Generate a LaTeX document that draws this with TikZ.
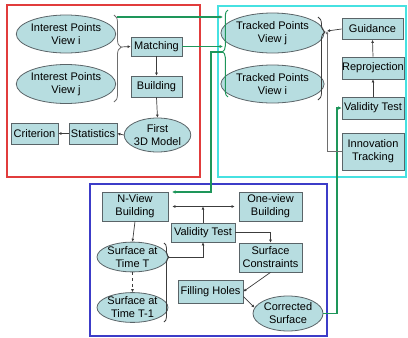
\documentclass[tikz,border=0pt]{standalone}
\usepackage{fontspec}
\setmainfont{Liberation Sans}
\usetikzlibrary{shapes.geometric,arrows.meta,decorations.pathreplacing}
\definecolor{nodefill}{RGB}{183,221,224}
\definecolor{nodeline}{RGB}{90,100,104}
\definecolor{conn}{RGB}{60,60,60}
\definecolor{braceline}{RGB}{110,110,110}
\definecolor{greenline}{RGB}{30,150,90}
\definecolor{redframe}{RGB}{225,60,60}
\definecolor{cyanframe}{RGB}{70,225,225}
\definecolor{blueframe}{RGB}{60,60,200}
\begin{document}
\begin{tikzpicture}[x=1pt,y=-1pt,
  every node/.style={font=\fontsize{11}{13}\selectfont, align=center, inner sep=0pt},
  boxnode/.style={draw=nodeline, fill=nodefill, line width=0.8pt, rectangle},
  ellnode/.style={draw=nodeline, fill=nodefill, line width=0.8pt, ellipse},
  arr/.style={draw=conn, line width=0.7pt, -{Latex[length=3pt,width=3pt]}},
  garr/.style={draw=greenline, line width=1.2pt, -{Latex[length=3.5pt,width=3.5pt]}},
  bracestyle/.style={draw=braceline, line width=0.8pt, decorate},
  frame/.style={line width=1.1pt}]
\useasboundingbox (0,0) rectangle (408,338);
% frames
\draw[frame, draw=redframe] (7,5) rectangle (200,177);
\draw[frame, draw=cyanframe] (218,6) rectangle (406,177);
\draw[frame, draw=blueframe] (90,184) rectangle (327,336);
% red region
\node[ellnode, minimum width=88pt, minimum height=38pt] (ip1) at (66,34) {Interest Points\\View i};
\node[ellnode, minimum width=88pt, minimum height=39pt] (ip2) at (66,84) {Interest Points\\View j};
\node[boxnode, minimum width=51pt, minimum height=19pt] (match) at (156.5,46.5) {Matching};
\node[boxnode, minimum width=51pt, minimum height=21pt] (build) at (156.5,86.5) {Building};
\node[ellnode, minimum width=63pt, minimum height=34pt] (first) at (157.5,135) {First\\3D Model};
\node[boxnode, minimum width=48pt, minimum height=21pt] (stats) at (93,133.5) {Statistics};
\node[boxnode, minimum width=47pt, minimum height=21pt] (crit) at (34.5,133.5) {Criterion};
% cyan region
\node[ellnode, minimum width=89pt, minimum height=40pt] (tpj) at (272.5,33) {Tracked Points\\View j};
\node[ellnode, minimum width=89pt, minimum height=38pt] (tpi) at (272.5,84) {Tracked Points\\View i};
\node[boxnode, minimum width=61pt, minimum height=21pt] (guid) at (372.5,29) {Guidance};
\node[boxnode, minimum width=62pt, minimum height=22pt] (reproj) at (373,68) {Reprojection};
\node[boxnode, minimum width=62pt, minimum height=22pt] (valA) at (373,108) {Validity Test};
\node[boxnode, minimum width=62pt, minimum height=37pt] (innov) at (373,151.5) {Innovation\\Tracking};
% blue region
\node[boxnode, minimum width=66pt, minimum height=29pt] (nview) at (135,206.5) {N-View\\Building};
\node[boxnode, minimum width=63pt, minimum height=29pt] (oneview) at (270.5,206.5) {One-view\\Building};
\node[boxnode, minimum width=64pt, minimum height=19pt] (valB) at (203,232.5) {Validity Test};
\node[ellnode, minimum width=71pt, minimum height=28pt] (surfT) at (132.5,257) {Surface at\\Time T};
\node[ellnode, minimum width=71pt, minimum height=29pt] (surfT1) at (132.5,307.5) {Surface at\\Time T-1};
\node[boxnode, minimum width=63pt, minimum height=29pt] (surfc) at (270.5,257.5) {Surface\\Constraints};
\node[boxnode, minimum width=65pt, minimum height=23pt] (fillh) at (210.5,291.5) {Filling Holes};
\node[ellnode, minimum width=70pt, minimum height=35pt] (corr) at (288,313.5) {Corrected\\Surface};
% braces
\coordinate (rbTop) at (114,15);
\coordinate (rbBot) at (114,102);
\coordinate (rbTip) at (121,47);
\draw[bracestyle, decoration={brace, amplitude=7pt, aspect=0.37}] (rbTop) -- (rbBot);
\coordinate (gbTop) at (228,10);
\coordinate (gbBot) at (228,97);
\coordinate (gbTip) at (222.5,52);
\draw[bracestyle, draw=greenline, line width=1pt, decoration={brace, amplitude=5.5pt, aspect=0.52}] (gbBot) -- (gbTop);
\coordinate (cbTop) at (318,17);
\coordinate (cbBot) at (318,100);
\coordinate (cbTip) at (325,32);
\draw[bracestyle, draw=conn, decoration={brace, amplitude=7pt, aspect=0.18}] (cbTop) -- (cbBot);
\coordinate (bbTop) at (164,243);
\coordinate (bbBot) at (164,322);
\coordinate (bbTip) at (169,257);
\draw[bracestyle, draw=conn, decoration={brace, amplitude=5pt, aspect=0.18}] (bbTop) -- (bbBot);
% red region connectors
\draw[arr] (rbTip) -- (match.west);
\draw[arr] (match.south) -- (build.north);
\draw[arr] (build.south) -- (first.north);
\draw[arr] (first.west) -- (stats.east);
\draw[arr] (stats.west) -- (crit.east);
% green links
\coordinate (g1s) at (117,17);
\coordinate (g1e) at (223,17);
\draw[garr] (g1s) -- (g1e);
\coordinate (g2e) at (223,46.5);
\draw[garr] (match.east) -- (g2e);
\coordinate (g3a) at (211,52);
\coordinate (g3b) at (211,192);
\coordinate (g3e) at (172,192);
\draw[garr] (gbTip) -- (g3a) -- (g3b) -- (g3e);
\coordinate (g4a) at (337,313.5);
\draw[garr] (corr.east) -- (g4a) -- (g4a |- valA.west) -- (valA.west);
% cyan region connectors
\coordinate (cbIn) at (327,31);
\draw[arr] (guid.west) -- (cbIn);
\draw[arr, draw=braceline] (innov.west) -- (innov.west -| cbIn) -- (cbIn);
\draw[arr] (valA.north) -- (reproj.south);
\draw[arr] (reproj.north) -- (guid.south);
% blue region connectors
\draw[arr] (nview.south) -- (surfT.north);
\draw[arr, dashed] (surfT.south) -- (surfT1.north);
\draw[draw=conn, line width=0.7pt, {Latex[length=3pt,width=3pt]}-{Latex[length=3pt,width=3pt]}, shorten <=4pt, shorten >=4pt] (nview.east) -- (oneview.west);
\draw[arr] (valB.north) -- (valB.north |- nview.east);
\draw[arr] (valB.east) -- (valB.east -| surfc.north) -- (surfc.north);
\draw[arr] (bbTip) -- (bbTip -| valB.south) -- (valB.south);
\draw[arr] (surfc.south) -- (fillh.east);
\draw[arr] ([yshift=-5pt]fillh.east) -- (corr.170);
\end{tikzpicture}
\end{document}
